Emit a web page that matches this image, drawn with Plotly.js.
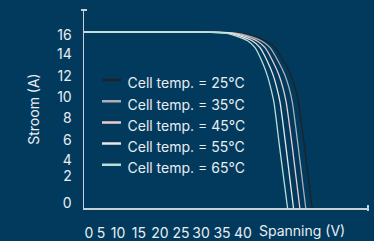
<!DOCTYPE html>
<html>
<head>
<meta charset="utf-8">
<script src="https://cdn.plot.ly/plotly-3.0.1.min.js"></script>
<style>
html,body{margin:0;padding:0;background:#023a5d;}
#chart{width:374px;height:241px;}
</style>
</head>
<body>
<div id="chart"></div>
<script>
// Series labels
const seriesNames = ['Cell temp. = 25°C', 'Cell temp. = 35°C', 'Cell temp. = 45°C', 'Cell temp. = 55°C', 'Cell temp. = 65°C'];
// Current values (A), shared by all series
const current = [16, 16, 15.98, 15.9, 15.65, 15.2, 14.6, 13.3, 12.1, 10.9, 9.6, 5.7, 0];
// Voltage values (V) per series
const voltage25 = [0, 26, 30, 34, 37, 40, 42, 44, 45.5, 46.5, 47.2, 48.5, 50.2];
const voltage35 = [0, 25.4, 29.4, 33.3, 36.1, 39.0, 40.9, 42.8, 44.2, 45.15, 45.85, 47.1, 48.8];
const voltage45 = [0, 24.8, 28.8, 32.6, 35.2, 38.0, 39.8, 41.6, 42.9, 43.8, 44.5, 45.8, 47.5];
const voltage55 = [0, 24.2, 28.2, 31.9, 34.3, 37.0, 38.7, 40.4, 41.6, 42.45, 43.15, 44.4, 46.1];
const voltage65 = [0, 23.6, 27.6, 31.2, 33.4, 36.0, 37.6, 39.2, 40.3, 41.1, 41.8, 43.0, 44.8];
// Tick labels
const xTickLabels = ['0', '5', '10', '15', '20', '25', '30', '35', '40'];
const yTickLabels = ['16', '14', '12', '10', '8', '6', '4', '2', '0'];
</script>
<script>
// Positions where the reference prints its tick labels (layout, not data)
const xTickPos = [1.1, 3.74, 7.48, 12.1, 16.73, 21.35, 25.75, 30.37, 34.99];
const yTickPos = [15.7, 14.0, 12.0, 10.1, 8.15, 6.17, 4.38, 2.92, 0.43];
const colors = ['#1e2326', '#aab0b4', '#ecccd0', '#e8e8e8', '#b9e0d7'];
const voltages = [voltage25, voltage35, voltage45, voltage55, voltage65];
const textColor = '#e8eef2';
const axisColor = '#c9d1d7';
const FONT = 'Inter, "Noto Sans", sans-serif';

const traces = voltages.map((v, i) => ({
  x: v, y: current, type: 'scatter', mode: 'lines', name: seriesNames[i],
  line: {color: colors[i], width: 1.3, shape: 'spline', smoothing: 0.6}
}));

const layout = {
  width: 374, height: 241,
  paper_bgcolor: '#023a5d', plot_bgcolor: '#023a5d',
  margin: {l: 84, r: 6, t: 10, b: 33},
  font: {family: FONT, size: 14, color: textColor},
  showlegend: true,
  legend: {x: 0.0123, y: 0.71, xanchor: 'left', yanchor: 'top', bgcolor: 'rgba(0,0,0,0)',
           font: {family: FONT, size: 14, color: textColor}, itemwidth: 30},
  xaxis: {range: [0, 62.5], showgrid: false, zeroline: false, showline: true,
          linecolor: axisColor, linewidth: 1.5, ticks: '',
          tickvals: xTickPos, ticktext: xTickLabels, ticklabelstandoff: 12,
          tickfont: {family: FONT, size: 14, color: textColor}, fixedrange: true},
  yaxis: {range: [0, 18], showgrid: false, zeroline: false, showline: true,
          linecolor: axisColor, linewidth: 1.5, ticks: '',
          tickvals: yTickPos, ticktext: yTickLabels, ticklabelstandoff: 8,
          tickfont: {family: FONT, size: 14, color: textColor},
          title: {text: 'Stroom (A)', font: {family: FONT, size: 14, color: textColor}, standoff: 14},
          fixedrange: true},
  annotations: [{
    xref: 'paper', yref: 'paper', x: 0.609, y: -0.116, xanchor: 'left', yanchor: 'middle',
    text: 'Spanning (V)', showarrow: false, font: {family: FONT, size: 14, color: textColor}
  }],
  shapes: [
    {type: 'line', xref: 'paper', yref: 'paper', x0: -0.0106, x1: 0.0106, y0: 1, y1: 1,
     line: {color: axisColor, width: 2}},
    {type: 'line', xref: 'paper', yref: 'paper', x0: 1, x1: 1, y0: -0.015, y1: 0.015,
     line: {color: axisColor, width: 2}}
  ]
};

Plotly.newPlot('chart', traces, layout, {displayModeBar: false, staticPlot: true}).then(gd => {
  // Shorter, thicker legend swatches as in the reference
  gd.querySelectorAll('.legend .legendlines path').forEach(p => {
    p.setAttribute('d', 'M14.5,-3h19');
    p.style.strokeWidth = '2.5px';
  });
});
</script>
</body>
</html>
